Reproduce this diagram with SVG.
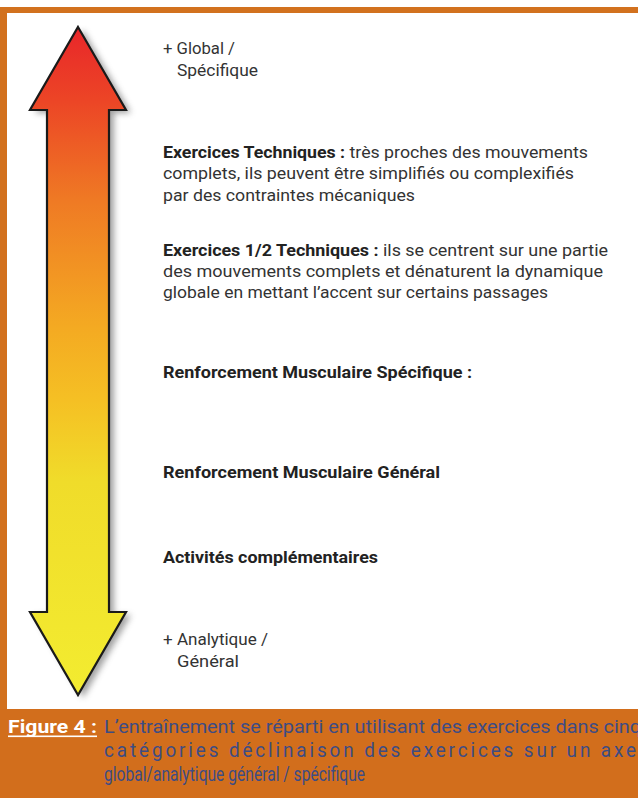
<svg xmlns="http://www.w3.org/2000/svg" width="638" height="798" viewBox="0 0 638 798">
<defs>
<linearGradient id="grad" x1="0" y1="27" x2="0" y2="695" gradientUnits="userSpaceOnUse">
<stop offset="0" stop-color="#e8262a"/>
<stop offset="0.11" stop-color="#ec4526"/>
<stop offset="0.26" stop-color="#ef7a24"/>
<stop offset="0.45" stop-color="#f4aa22"/>
<stop offset="0.56" stop-color="#f5c024"/>
<stop offset="0.68" stop-color="#f0dc2a"/>
<stop offset="1" stop-color="#f3ec30"/>
</linearGradient>
<filter id="shadow" x="-30%" y="-10%" width="160%" height="120%">
<feGaussianBlur stdDeviation="3"/>
</filter>
<style>
.t{font-family:Roboto,"Liberation Sans",sans-serif;font-size:16px;fill:#333333}
.b{font-weight:bold;fill:#222222}
.cap{font-family:Roboto,"Liberation Sans",sans-serif;font-size:19px;fill:#3d4c84}
.cap2{font-size:21px}
</style>
</defs>
<rect x="0" y="0" width="638" height="798" fill="#ffffff"/>
<rect x="0" y="7" width="638" height="6" fill="#d2711e"/>
<rect x="0" y="7" width="7" height="710" fill="#d2711e"/>
<rect x="0" y="709" width="638" height="89" fill="#d26e1c"/>

<g id="arrow">
<path d="M78,27 L126,110 L109,110 L109,612 L126,612 L78,695 L30,612 L47,612 L47,110 L30,110 Z" transform="translate(5,3)" fill="#555" opacity="0.55" filter="url(#shadow)"/>
<path d="M78,27 L126,110 L109,110 L109,612 L126,612 L78,695 L30,612 L47,612 L47,110 L30,110 Z" fill="url(#grad)" stroke="#1a1a1a" stroke-width="2.2" stroke-linejoin="miter"/>
</g>

<g id="top-label">
<text class="t" x="163" y="54" textLength="72" lengthAdjust="spacingAndGlyphs">+ Global /</text>
<text class="t" x="177" y="76" textLength="81" lengthAdjust="spacingAndGlyphs">Spécifique</text>
</g>

<g id="ex-techniques">
<text class="t" x="163" y="158" textLength="425" lengthAdjust="spacingAndGlyphs"><tspan class="b">Exercices Techniques :</tspan> très proches des mouvements</text>
<text class="t" x="163" y="179" textLength="411" lengthAdjust="spacingAndGlyphs">complets, ils peuvent être simplifiés ou complexifiés</text>
<text class="t" x="163" y="201" textLength="252" lengthAdjust="spacingAndGlyphs">par des contraintes mécaniques</text>
</g>

<g id="ex-demi-techniques">
<text class="t" x="163" y="256" textLength="445" lengthAdjust="spacingAndGlyphs"><tspan class="b">Exercices 1/2 Techniques :</tspan> ils se centrent sur une partie</text>
<text class="t" x="163" y="277" textLength="440" lengthAdjust="spacingAndGlyphs">des mouvements complets et dénaturent la dynamique</text>
<text class="t" x="163" y="298" textLength="385" lengthAdjust="spacingAndGlyphs">globale en mettant l’accent sur certains passages</text>
</g>

<g id="renf-specifique">
<text class="t b" x="163" y="378" textLength="309" lengthAdjust="spacingAndGlyphs">Renforcement Musculaire Spécifique :</text>
</g>

<g id="renf-general">
<text class="t b" x="163" y="478" textLength="277" lengthAdjust="spacingAndGlyphs">Renforcement Musculaire Général</text>
</g>

<g id="activites">
<text class="t b" x="163" y="563" textLength="215" lengthAdjust="spacingAndGlyphs">Activités complémentaires</text>
</g>

<g id="bottom-label">
<text class="t" x="163" y="645" textLength="105" lengthAdjust="spacingAndGlyphs">+ Analytique /</text>
<text class="t" x="177" y="667" textLength="62" lengthAdjust="spacingAndGlyphs">Général</text>
</g>

<g id="caption">
<g transform="scale(0.9,1)">
<text class="cap" x="8.9" y="733" font-weight="bold" style="fill:#ffffff" textLength="98.9" lengthAdjust="spacingAndGlyphs">Figure 4 :</text>
<text class="cap" x="115.6" y="733" textLength="596.7" lengthAdjust="spacingAndGlyphs">L’entraînement se réparti en utilisant des exercices dans cinq</text>
<text class="cap cap2" x="115.6" y="757" textLength="591.1" lengthAdjust="spacing">catégories déclinaison des exercices sur un axe</text>
<text class="cap cap2" x="115.6" y="781" textLength="290" lengthAdjust="spacingAndGlyphs">global/analytique général / spécifique</text>
</g>
<rect x="8" y="735.5" width="89" height="1.6" fill="#ffffff"/>
</g>
</svg>
